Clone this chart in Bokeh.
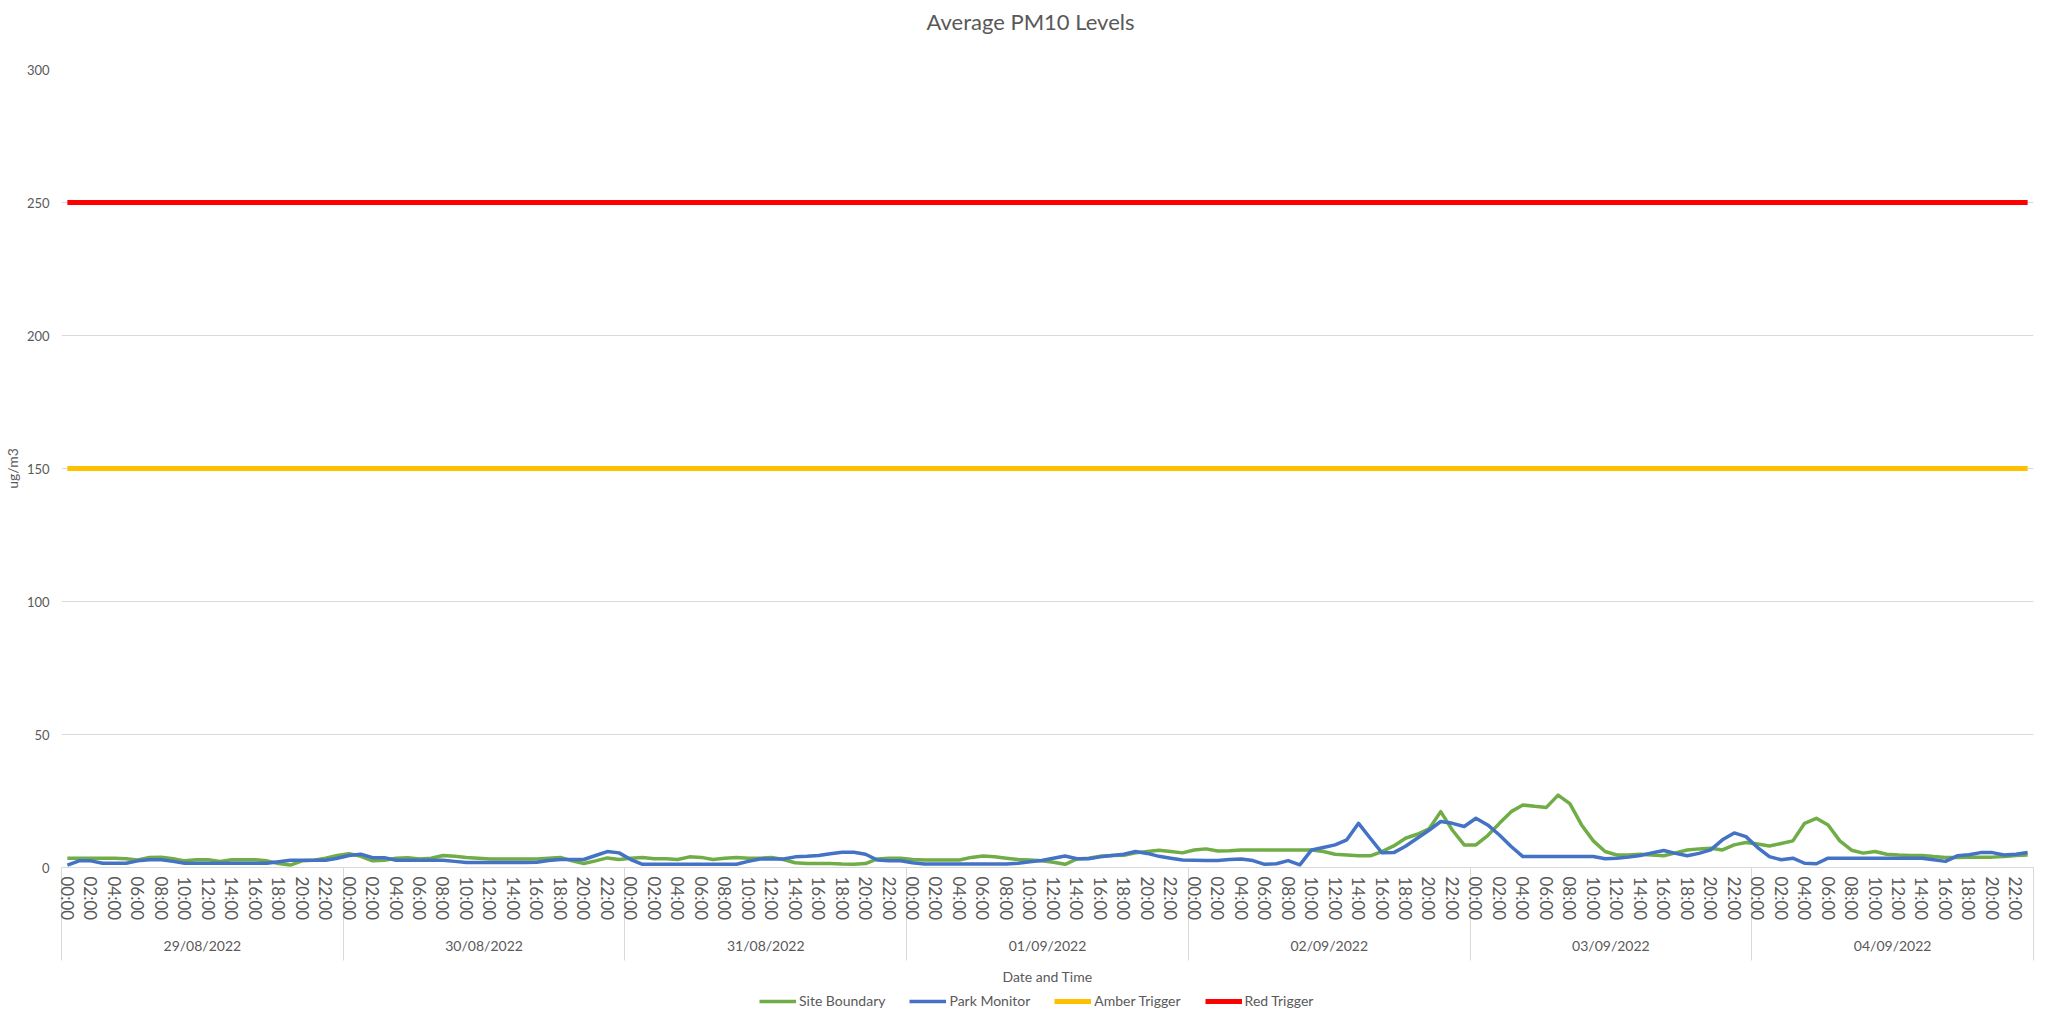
import numpy as np
from bokeh.plotting import figure
from bokeh.layouts import column
from bokeh.models import (Range1d, LinearAxis, FixedTicker, Legend, LegendItem, Title,
                          CustomJSTickFormatter)
from bokeh.embed import file_html
from bokeh.resources import INLINE

# ---------------- data ----------------
dates = ["29/08/2022", "30/08/2022", "31/08/2022", "01/09/2022",
         "02/09/2022", "03/09/2022", "04/09/2022"]
hours = ["00:00", "01:00", "02:00", "03:00", "04:00", "05:00", "06:00", "07:00",
         "08:00", "09:00", "10:00", "11:00", "12:00", "13:00", "14:00", "15:00",
         "16:00", "17:00", "18:00", "19:00", "20:00", "21:00", "22:00", "23:00"]

site_boundary = [
    3.5, 3.5, 3.5, 3.5, 3.5, 3.3, 2.8, 3.8, 3.9, 3.3, 2.5, 2.9, 2.9, 2.3, 2.9, 2.9, 2.9, 2.5, 1.5, 0.9, 2.5, 2.7, 3.5, 4.5,
    5.2, 4.2, 2.5, 2.7, 3.5, 3.7, 3.2, 3.5, 4.5, 4.2, 3.8, 3.5, 3.2, 3.2, 3.2, 3.2, 3.2, 3.5, 3.8, 2.5, 1.5, 2.5, 3.6, 3.0,
    3.5, 3.8, 3.3, 3.3, 3.0, 4.0, 3.8, 3.0, 3.5, 3.8, 3.5, 3.5, 3.8, 3.0, 1.8, 1.5, 1.5, 1.5, 1.3, 1.2, 1.5, 3.2, 3.5, 3.5,
    3.0, 2.8, 2.8, 2.8, 2.8, 3.8, 4.3, 4.0, 3.5, 3.0, 2.8, 2.5, 2.0, 1.2, 3.2, 3.5, 4.2, 4.5, 4.6, 5.5, 6.0, 6.5, 6.0, 5.5,
    6.6, 7.0, 6.2, 6.3, 6.6, 6.6, 6.6, 6.6, 6.6, 6.6, 6.6, 6.0, 5.0, 4.7, 4.4, 4.4, 6.0, 8.1, 11.0, 12.5, 14.5, 21.0, 14.0, 8.5,
    8.5, 12.0, 16.6, 21.0, 23.5, 23.0, 22.6, 27.2, 24.0, 16.0, 10.0, 6.0, 4.7, 4.7, 5.0, 4.7, 4.4, 5.5, 6.6, 7.0, 7.2, 6.6, 8.5, 9.4,
    8.8, 8.1, 9.0, 10.0, 16.6, 18.5, 16.0, 10.0, 6.5, 5.4, 6.0, 5.0, 4.7, 4.5, 4.5, 4.1, 3.8, 3.8, 3.9, 3.9, 3.9, 4.1, 4.5, 4.7,
]
park_monitor = [
    0.9, 2.5, 2.5, 1.6, 1.6, 1.6, 2.5, 2.9, 2.9, 2.3, 1.6, 1.6, 1.6, 1.6, 1.6, 1.6, 1.6, 1.6, 2.2, 2.7, 2.7, 2.7, 2.7, 3.5,
    4.5, 5.0, 3.7, 3.7, 2.7, 2.7, 2.7, 2.7, 2.7, 2.3, 1.9, 1.9, 1.9, 1.9, 1.9, 1.9, 2.0, 2.6, 3.0, 3.0, 3.0, 4.5, 6.0, 5.5,
    3.0, 1.2, 1.2, 1.2, 1.2, 1.2, 1.2, 1.2, 1.2, 1.2, 2.3, 3.2, 3.2, 3.2, 4.0, 4.2, 4.5, 5.2, 5.7, 5.7, 5.0, 2.8, 2.5, 2.5,
    1.8, 1.3, 1.3, 1.3, 1.3, 1.3, 1.3, 1.3, 1.3, 1.6, 2.2, 2.6, 3.5, 4.3, 3.3, 3.3, 4.0, 4.5, 5.0, 6.0, 5.3, 4.2, 3.5, 2.8,
    2.7, 2.6, 2.6, 3.0, 3.2, 2.6, 1.2, 1.4, 2.6, 1.0, 6.6, 7.5, 8.5, 10.4, 16.6, 11.0, 5.5, 5.6, 8.0, 11.0, 14.0, 17.3, 16.6, 15.4,
    18.5, 16.0, 12.2, 7.9, 4.1, 4.1, 4.1, 4.1, 4.1, 4.1, 4.1, 3.3, 3.5, 3.9, 4.5, 5.5, 6.4, 5.3, 4.4, 5.3, 6.6, 10.4, 13.0, 11.6,
    7.5, 4.1, 2.9, 3.5, 1.6, 1.4, 3.5, 3.5, 3.5, 3.5, 3.5, 3.5, 3.5, 3.5, 3.5, 2.9, 2.3, 4.4, 4.8, 5.6, 5.6, 4.7, 5.0, 5.6,
]
amber_trigger_level = 150
red_trigger_level = 250
y_ticks = [0, 50, 100, 150, 200, 250, 300]

series_names = ["Site Boundary", "Park Monitor", "Amber Trigger", "Red Trigger"]
series_colors = ["#70AD47", "#4472C4", "#FFC000", "#FF0000"]
series_widths = [3.5, 3.5, 5, 5]

# ---------------- derived ----------------
n = len(dates) * len(hours)
x = np.arange(n)
amber_trigger = [amber_trigger_level] * n
red_trigger = [red_trigger_level] * n
series_values = [site_boundary, park_monitor, amber_trigger, red_trigger]

FONT = "Lato"
GREY = "#595959"
GRID = "#d9d9d9"

FRAME_W, FRAME_H = 1972, 798
p = figure(frame_width=FRAME_W, frame_height=FRAME_H,
           x_range=Range1d(-0.5, n - 0.5), y_range=Range1d(0, 300),
           output_backend="svg", toolbar_location=None,
           min_border_left=54, min_border_right=3, min_border_top=69, min_border_bottom=0)
p.outline_line_color = None
p.background_fill_color = "white"
p.border_fill_color = "white"

# title: spacer panel next to the frame, then the real title above it
p.add_layout(Title(text=" ", text_font=FONT, text_font_size="26px", standoff=0), "above")
p.add_layout(Title(text="Average PM10 Levels", text_font=FONT, text_font_size="22px",
                   text_font_style="normal", text_color=GREY, standoff=0,
                   align="left", offset=865, vertical_align="middle"), "above")

# y axis
ya = p.yaxis[0]
ya.ticker = FixedTicker(ticks=y_ticks)
ya.axis_line_color = None
ya.major_tick_line_color = None
ya.minor_tick_line_color = None
ya.major_tick_out = 0
ya.minor_tick_out = 0
ya.major_label_standoff = 12
ya.major_label_text_font = FONT
ya.major_label_text_font_size = "13px"
ya.major_label_text_color = GREY
ya.axis_label = "ug/m3"
ya.axis_label_text_font = FONT
ya.axis_label_text_font_size = "14px"
ya.axis_label_text_font_style = "normal"
ya.axis_label_text_color = GREY
ya.axis_label_standoff = 3

p.ygrid.ticker = FixedTicker(ticks=y_ticks)
p.ygrid.grid_line_color = GRID
p.ygrid.grid_line_width = 1
p.xgrid.visible = False

# hour axis (first level); long minor ticks form the day separators
SEP = 93
xa = p.xaxis[0]
hour_ticks = list(range(0, n, 2))
day_bounds = [d * len(hours) - 0.5 for d in range(len(dates) + 1)]
xa.ticker = FixedTicker(ticks=hour_ticks, minor_ticks=day_bounds)
xa.major_label_overrides = {t: hours[t % len(hours)] for t in hour_ticks}
xa.major_label_orientation = "vertical"
xa.major_label_standoff = 9 - SEP
xa.major_label_text_font = FONT
xa.major_label_text_font_size = "17px"
xa.major_label_text_color = GREY
xa.axis_line_color = GRID
xa.axis_line_width = 1
xa.major_tick_line_color = None
xa.major_tick_out = 0
xa.major_tick_in = 0
xa.minor_tick_line_color = GRID
xa.minor_tick_line_width = 1
xa.minor_tick_in = 0
xa.minor_tick_out = SEP

# date axis (second level)
day_centers = [d * len(hours) + (len(hours) - 1) / 2 for d in range(len(dates))]
da = LinearAxis(ticker=FixedTicker(ticks=day_centers, minor_ticks=[]),
                formatter=CustomJSTickFormatter(args=dict(dates=dates),
                                                code="return dates[Math.round((tick - 11.5) / 24)];"))
da.axis_line_color = None
da.major_tick_line_color = None
da.minor_tick_line_color = None
da.major_tick_out = 0
da.major_tick_in = 0
da.minor_tick_out = 0
da.major_label_standoff = 13
da.major_label_orientation = "horizontal"
da.major_label_text_font = FONT
da.major_label_text_font_size = "14px"
da.major_label_text_color = GREY
da.axis_label = "Date and Time"
da.axis_label_text_font = FONT
da.axis_label_text_font_size = "14px"
da.axis_label_text_font_style = "normal"
da.axis_label_text_color = GREY
da.axis_label_standoff = 11
p.add_layout(da, "below")

# series
for vals, col, w in zip(series_values, series_colors, series_widths):
    p.line(x, vals, line_color=col, line_width=w, line_join="round")

# legend strip (separate small figure directly below the chart); its swatch lines
# hold the same series data but lie outside this strip's visible range
lf = figure(width=2029, height=24, x_range=Range1d(0, 1), y_range=Range1d(1000, 1001),
            output_backend="svg", toolbar_location=None,
            min_border_left=0, min_border_right=0, min_border_top=0, min_border_bottom=0,
            x_axis_type=None, y_axis_type=None)
lf.outline_line_color = None
lf.xgrid.visible = False
lf.ygrid.visible = False
legend_renderers = [lf.line(x, vals, line_color=col, line_width=w)
                    for vals, col, w in zip(series_values, series_colors, series_widths)]
legend = Legend(items=[LegendItem(label=nm, renderers=[r])
                       for nm, r in zip(series_names, legend_renderers)],
                orientation="horizontal", location=(698, 2),
                glyph_width=37, glyph_height=14, label_height=14, label_standoff=3, spacing=24,
                padding=0, margin=0, border_line_color=None, background_fill_alpha=0,
                label_text_font=FONT, label_text_font_size="14px", label_text_color=GREY)
lf.add_layout(legend, "center")

layout = column(p, lf, spacing=0)
open("out.html", "w").write(file_html(layout, INLINE))
